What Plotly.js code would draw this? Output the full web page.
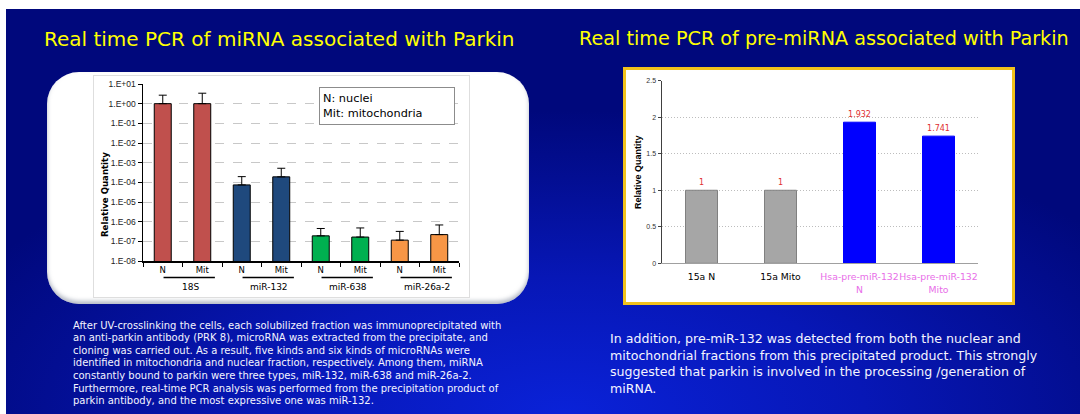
<!DOCTYPE html>
<html>
<head>
<meta charset="utf-8">
<script src="https://cdn.plot.ly/plotly-3.0.1.min.js"></script>
<style>
  html, body { margin: 0; padding: 0; background: #ffffff; }
  #stage { position: relative; width: 1080px; height: 414px; overflow: hidden; }
  #bg { position: absolute; left: 6px; top: 9px; width: 1074px; height: 405px;
        background: radial-gradient(ellipse 62% 75% at 52% 100%, #0a22d8 0%, #0717b6 45%, #030e92 78%, #00087c 100%); }
  #panel1 { position: absolute; left: 47px; top: 72px; width: 482px; height: 232px;
            border-radius: 32px; background: #ffffff; box-shadow: inset 0 -3px 4px rgba(120,130,150,0.55); }
  #box1 { position: absolute; left: 93px; top: 75px; width: 377px; height: 223px;
          border: 1px solid #dedede; box-sizing: border-box; background: #ffffff; }
  #box2 { position: absolute; left: 623px; top: 67px; width: 392px; height: 238px;
          border: 3px solid #f2c21b; box-sizing: border-box; background: #ffffff; }
  #chart { position: absolute; left: 0; top: 0; width: 1080px; height: 414px; }
</style>
</head>
<body>
<div id="stage">
  <div id="bg"></div>
  <div id="panel1"></div>
  <div id="box1"></div>
  <div id="box2"></div>
  <div id="chart"></div>
</div>
<script>
// ---------- data: left chart (miRNA, log scale) ----------
const groups = ['18S', 'miR-132', 'miR-638', 'miR-26a-2'];
const fractions = ['N', 'Mit'];
const quantity = [1.0, 1.0, 7.4e-5, 1.9e-4, 1.9e-7, 1.65e-7, 1.15e-7, 2.2e-7];
const upperBound = [2.7, 3.4, 1.95e-4, 5.2e-4, 4.5e-7, 4.8e-7, 3.2e-7, 6.8e-7];
const groupColors = ['#c0504d', '#1f497d', '#00b050', '#f79646'];
const logTickVals = [1e-8, 1e-7, 1e-6, 1e-5, 1e-4, 1e-3, 1e-2, 1e-1, 1e0, 1e1];
const logTickText = ['1.E-08', '1.E-07', '1.E-06', '1.E-05', '1.E-04', '1.E-03', '1.E-02', '1.E-01', '1.E+00', '1.E+01'];

// ---------- data: right chart (pre-miRNA) ----------
const preCategories = ['15a N', '15a Mito', 'Hsa-pre-miR-132 N', 'Hsa-pre-miR-132 Mito'];
const preLabels = ['15a N', '15a Mito', 'Hsa-pre-miR-132<br>N', 'Hsa-pre-miR-132<br>Mito'];
const preLabelColors = ['#000000', '#000000', '#e86ee8', '#e86ee8'];
const preValues = [1, 1, 1.932, 1.741];
const preFill = ['#a6a6a6', '#a6a6a6', '#0000ff', '#0000ff'];
const preEdge = ['#808080', '#808080', '#0000ff', '#0000ff'];
const preTicks = [0, 0.5, 1, 1.5, 2, 2.5];

// ---------- texts ----------
const title1 = 'Real time PCR of miRNA associated with Parkin';
const title2 = 'Real time PCR of pre-miRNA associated with Parkin';
const para1 = [
  'After UV-crosslinking the cells, each solubilized fraction was immunoprecipitated with',
  'an anti-parkin antibody (PRK 8), microRNA was extracted from the precipitate, and',
  'cloning was carried out. As a result, five kinds and six kinds of microRNAs were',
  'identified in mitochondria and nuclear fraction, respectively. Among them, miRNA',
  'constantly bound to parkin were three types, miR-132, miR-638 and miR-26a-2.',
  'Furthermore, real-time PCR analysis was performed from the precipitation product of',
  'parkin antibody, and the most expressive one was miR-132.'
];
const para2 = [
  'In addition, pre-miR-132 was detected from both the nuclear and',
  'mitochondrial fractions from this precipitated product. This strongly',
  'suggested that parkin is involved in the processing /generation of',
  'miRNA.'
];

const W = 1080, H = 414;
const px = v => v / W;
const py = v => 1 - v / H;
const FONT = 'DejaVu Sans';

const cats = [];
const catText = [];
const catColors = [];
groups.forEach((g, gi) => fractions.forEach(f => {
  cats.push(g + ' ' + f);
  catText.push(f);
  catColors.push(groupColors[gi]);
}));

const traces = [
  {
    type: 'bar', x: cats, y: quantity, xaxis: 'x', yaxis: 'y', width: 0.43,
    marker: { color: catColors, line: { color: '#000000', width: 1 } },
    error_y: { type: 'data', symmetric: false,
               array: upperBound.map((u, i) => u - quantity[i]),
               arrayminus: quantity.map(() => 0),
               color: '#000000', thickness: 1, width: 4 },
    hoverinfo: 'skip', showlegend: false
  },
  {
    type: 'bar', x: preCategories, y: preValues, xaxis: 'x2', yaxis: 'y2', width: 0.405,
    marker: { color: preFill, line: { color: preEdge, width: 1 } },
    text: preValues.map(v => String(v)), textposition: 'outside', cliponaxis: false,
    textfont: { family: FONT, size: 8, color: '#e03030' },
    hoverinfo: 'skip', showlegend: false
  }
];

const annotations = [];
const shapes = [];

// titles
annotations.push({ xref: 'paper', yref: 'paper', x: px(42), y: py(39), xanchor: 'left', yanchor: 'middle',
  text: title1, showarrow: false, font: { family: FONT, size: 20, color: '#ffff00' } });
annotations.push({ xref: 'paper', yref: 'paper', x: px(577), y: py(39), xanchor: 'left', yanchor: 'middle',
  text: title2, showarrow: false, font: { family: FONT, size: 19.2, color: '#ffff00' } });

// paragraphs
para1.forEach((t, i) => annotations.push({ xref: 'paper', yref: 'paper', x: px(71), y: py(325 + i * 12.6),
  xanchor: 'left', yanchor: 'middle', text: t, showarrow: false,
  font: { family: FONT, size: 10, color: '#f4f4ff' } }));
para2.forEach((t, i) => annotations.push({ xref: 'paper', yref: 'paper', x: px(608), y: py(338.3 + i * 16.7),
  xanchor: 'left', yanchor: 'middle', text: t, showarrow: false,
  font: { family: FONT, size: 12.6, color: '#f4f4ff' } }));

// left chart: group underlines and names
groups.forEach((g, gi) => {
  shapes.push({ type: 'line', xref: 'x', yref: 'paper', x0: gi * 2 + 0.02, x1: gi * 2 + 1.32,
    y0: py(277.5), y1: py(277.5), line: { color: '#000000', width: 1.5 } });
  annotations.push({ xref: 'x', yref: 'paper', x: gi * 2 + 0.7, y: py(286.5), xanchor: 'center', yanchor: 'middle',
    text: g, showarrow: false, font: { family: FONT, size: 9, color: '#000000' } });
});

// left chart: y title and legend box
annotations.push({ xref: 'paper', yref: 'paper', x: px(105), y: py(195), xanchor: 'center', yanchor: 'middle',
  text: '<b>Relative Quantity</b>', textangle: -90, showarrow: false,
  font: { family: FONT, size: 8.6, color: '#000000' } });
annotations.push({ xref: 'paper', yref: 'paper', x: px(319), y: py(87), xanchor: 'left', yanchor: 'top',
  text: 'N: nuclei<br>Mit: mitochondria', align: 'left', showarrow: false, width: 128, height: 30,
  bordercolor: '#8c8c8c', borderwidth: 1, borderpad: 3, bgcolor: '#ffffff',
  font: { family: FONT, size: 11.3, color: '#000000' } });

// right chart: y title
annotations.push({ xref: 'paper', yref: 'paper', x: px(638), y: py(172), xanchor: 'center', yanchor: 'middle',
  text: '<b>Relative Quantity</b>', textangle: -90, showarrow: false,
  font: { family: 'Liberation Sans', size: 9, color: '#000000' } });

const layout = {
  width: W, height: H,
  margin: { l: 0, r: 0, t: 0, b: 0, pad: 0 },
  paper_bgcolor: 'rgba(0,0,0,0)', plot_bgcolor: 'rgba(0,0,0,0)',
  showlegend: false,
  xaxis: {
    domain: [px(143), px(459)], anchor: 'y', type: 'category',
    categoryorder: 'array', categoryarray: cats, range: [-0.5, cats.length - 0.5],
    tickvals: cats, ticktext: catText, tickson: 'boundaries', tickangle: 0,
    ticks: 'outside', ticklen: 4, tickcolor: '#000000', tickwidth: 1,
    showline: true, linecolor: '#000000', linewidth: 1.5, showgrid: false, zeroline: false,
    tickfont: { family: FONT, size: 8.5, color: '#000000' }, fixedrange: true
  },
  yaxis: {
    domain: [py(261), py(84)], anchor: 'x', type: 'log', range: [-8, 1],
    tickvals: logTickVals, ticktext: logTickText,
    ticks: 'outside', ticklen: 4, tickcolor: '#000000', tickwidth: 1,
    showline: true, linecolor: '#000000', linewidth: 1.5,
    showgrid: true, gridcolor: '#c8c8c8', griddash: 'dash', gridwidth: 1, zeroline: false,
    tickfont: { family: 'Liberation Sans', size: 8.5, color: '#222222' }, fixedrange: true
  },
  xaxis2: {
    domain: [px(662), px(978)], anchor: 'y2', type: 'category',
    categoryorder: 'array', categoryarray: preCategories, range: [-0.5, preCategories.length - 0.5],
    tickvals: preCategories, tickangle: 0, ticklabelstandoff: 5,
    ticktext: preLabels.map((t, i) => '<span style="color:' + preLabelColors[i] + '">' + t + '</span>'),
    ticks: '', showline: true, linecolor: '#a0a0a0', linewidth: 1, showgrid: false, zeroline: false,
    tickfont: { family: FONT, size: 9.3, color: '#000000' }, fixedrange: true
  },
  yaxis2: {
    domain: [py(263.3), py(80.7)], anchor: 'x2', range: [0, 2.5],
    tickvals: preTicks, ticktext: preTicks.map(String),
    ticks: 'outside', ticklen: 3, tickcolor: '#404040', tickwidth: 1,
    showline: true, linecolor: '#404040', linewidth: 1.5,
    showgrid: true, gridcolor: '#bdbdbd', griddash: '1px,2px', gridwidth: 1, zeroline: false,
    tickfont: { family: 'Liberation Sans', size: 7, color: '#333333' }, fixedrange: true
  },
  annotations: annotations,
  shapes: shapes
};

Plotly.newPlot('chart', traces, layout, { displayModeBar: false, staticPlot: true });
</script>
</body>
</html>
